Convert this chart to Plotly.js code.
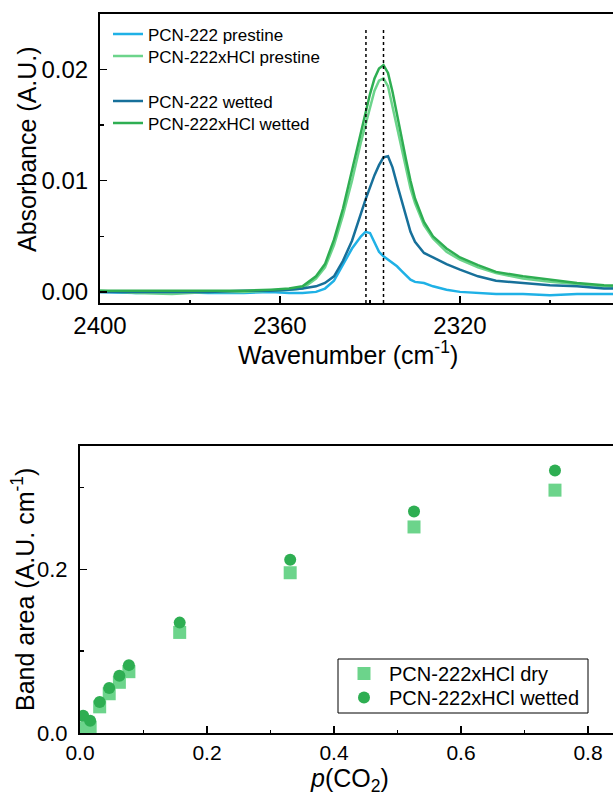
<!DOCTYPE html>
<html>
<head>
<meta charset="utf-8">
<script src="https://cdn.plot.ly/plotly-3.0.1.min.js"></script>
<style>
html, body { margin: 0; padding: 0; width: 613px; height: 796px; overflow: hidden; background: #fff; }
#chart { width: 680px; height: 796px; }
</style>
</head>
<body>
<div id="chart"></div>
<script>
// ---------- Top panel: IR spectra ----------
const wavenumber = [2400, 2392, 2384, 2376, 2368, 2362, 2358, 2355, 2352, 2350, 2348, 2346, 2344, 2342, 2341, 2340, 2339, 2338, 2337, 2336, 2335, 2334, 2333, 2332, 2331, 2330, 2328, 2326, 2323, 2320, 2316, 2312, 2306, 2300, 2294, 2288, 2282, 2275, 2270];

const absPCN222Prestine = [0.0000, -0.0001, 0.0000, -0.0001, -0.0001, 0.0000, -0.0001, -0.0001, 0.0000, 0.0003, 0.0010, 0.0024, 0.0039, 0.0050, 0.0054, 0.0053, 0.0045, 0.0036, 0.0032, 0.0029, 0.0026, 0.0023, 0.0019, 0.0015, 0.0011, 0.0009, 0.0008, 0.0005, 0.0002, 0.0000, -0.0001, -0.0002, -0.0002, -0.0003, -0.0002, -0.0002, -0.0002, -0.0002, -0.0002];

const absPCN222HClPrestine = [0.0001, -0.0001, -0.0002, 0.0000, 0.0000, 0.0001, 0.0002, 0.0003, 0.0012, 0.0022, 0.0042, 0.0069, 0.0100, 0.0135, 0.0151, 0.0167, 0.0181, 0.0190, 0.0192, 0.0185, 0.0167, 0.0148, 0.0129, 0.0110, 0.0093, 0.0080, 0.0060, 0.0048, 0.0036, 0.0029, 0.0022, 0.0017, 0.0012, 0.0009, 0.0007, 0.0005, 0.0004, 0.0003, 0.0003];

const absPCN222Wetted = [0.0000, 0.0000, 0.0000, 0.0000, 0.0001, 0.0001, 0.0002, 0.0003, 0.0005, 0.0008, 0.0014, 0.0028, 0.0046, 0.0072, 0.0083, 0.0094, 0.0105, 0.0114, 0.0121, 0.0122, 0.0112, 0.0097, 0.0082, 0.0067, 0.0054, 0.0045, 0.0035, 0.0031, 0.0025, 0.0020, 0.0014, 0.0010, 0.0008, 0.0006, 0.0005, 0.0003, 0.0003, 0.0002, 0.0002];

const absPCN222HClWetted = [0.0001, 0.0001, 0.0001, 0.0001, 0.0001, 0.0002, 0.0003, 0.0005, 0.0014, 0.0025, 0.0047, 0.0075, 0.0109, 0.0145, 0.0162, 0.0178, 0.0192, 0.0201, 0.0204, 0.0197, 0.0180, 0.0159, 0.0139, 0.0119, 0.0100, 0.0084, 0.0063, 0.0050, 0.0039, 0.0031, 0.0024, 0.0018, 0.0014, 0.0011, 0.0008, 0.0006, 0.0005, 0.0004, 0.0004];

const peakPositions = [2340.9, 2337.0];   // dotted reference lines
const peakLineTop = 0.0236;

// ---------- Bottom panel: band area vs p(CO2) ----------
const pCO2 = [0.005, 0.016, 0.031, 0.046, 0.062, 0.077, 0.157, 0.331, 0.526, 0.748];
const bandAreaDry = [0.006, 0.007, 0.032, 0.048, 0.062, 0.075, 0.123, 0.196, 0.252, 0.297];
const bandAreaWetted = [0.021, 0.015, 0.038, 0.055, 0.070, 0.083, 0.135, 0.212, 0.271, 0.321];

const topXTicks = [2400, 2360, 2320];
const topYTicks = [0, 0.01, 0.02];
const botXTicks = [0, 0.2, 0.4, 0.6, 0.8];
const botYTicks = [0, 0.2];

// ---------- geometry ----------
const W = 680, H = 796;
const FONT = '"Liberation Sans", Arial, sans-serif';
const px = v => v / W;
const py = v => 1 - v / H;

const cLightBlue = '#1fb1e6';
const cLightGreen = '#6cd48b';
const cDarkBlue = '#17709a';
const cGreen = '#2eae52';

const traces = [
  {x: wavenumber, y: absPCN222Prestine, name: 'PCN-222 prestine', type: 'scatter', mode: 'lines',
   line: {color: cLightBlue, width: 2.5}, xaxis: 'x', yaxis: 'y', legend: 'legend'},
  {x: wavenumber, y: absPCN222HClPrestine, name: 'PCN-222xHCl prestine', type: 'scatter', mode: 'lines',
   line: {color: cLightGreen, width: 2.5}, xaxis: 'x', yaxis: 'y', legend: 'legend2'},
  {x: wavenumber, y: absPCN222Wetted, name: 'PCN-222 wetted', type: 'scatter', mode: 'lines',
   line: {color: cDarkBlue, width: 2.5}, xaxis: 'x', yaxis: 'y', legend: 'legend3'},
  {x: wavenumber, y: absPCN222HClWetted, name: 'PCN-222xHCl wetted', type: 'scatter', mode: 'lines',
   line: {color: cGreen, width: 2.5}, xaxis: 'x', yaxis: 'y', legend: 'legend4'},
  {x: pCO2, y: bandAreaDry, name: 'PCN-222xHCl dry', type: 'scatter', mode: 'markers',
   marker: {symbol: 'square', size: 13, color: cLightGreen}, xaxis: 'x2', yaxis: 'y2', legend: 'legend5'},
  {x: pCO2, y: bandAreaWetted, name: 'PCN-222xHCl wetted', type: 'scatter', mode: 'markers',
   marker: {symbol: 'circle', size: 12, color: cGreen}, xaxis: 'x2', yaxis: 'y2', legend: 'legend6'}
];

const axisCommon = {
  showline: true, linewidth: 2, linecolor: '#000', mirror: true,
  ticks: 'inside', ticklen: 7, tickwidth: 1.5, tickcolor: '#000',
  showgrid: false, zeroline: false, fixedrange: true
};

const topXRange = [2400, 2400 - (W - 100) / 4.5];
const botXRange = [0, (W - 80) / 635];

function legendAt(left, top, size, extra) {
  return Object.assign({
    x: px(left), y: py(top), xanchor: 'left', yanchor: 'top',
    bgcolor: 'rgba(0,0,0,0)', borderwidth: 0, font: {size: size, family: FONT},
    tracegroupgap: 0, itemclick: false
  }, extra || {});
}

const layout = {
  width: W, height: H,
  margin: {l: 0, r: 0, t: 0, b: 0},
  paper_bgcolor: '#fff', plot_bgcolor: '#fff',
  font: {family: FONT, color: '#000'},
  showlegend: true,
  xaxis: Object.assign({}, axisCommon, {
    domain: [px(100), 1], anchor: 'y', range: topXRange,
    tickmode: 'array', tickvals: topXTicks, ticktext: topXTicks.map(String),
    tickfont: {size: 24, family: FONT}, ticklabelstandoff: 0,
    minor: {ticks: 'inside', dtick: 20, tick0: 2400, ticklen: 3.5, tickwidth: 1.5, tickcolor: '#000', showgrid: false}
  }),
  yaxis: Object.assign({}, axisCommon, {
    domain: [py(303), py(14)], anchor: 'x', range: [-0.001, 0.025],
    tickmode: 'array', tickvals: topYTicks, ticktext: topYTicks.map(v => v.toFixed(2)),
    tickfont: {size: 24, family: FONT}, ticklabelstandoff: 5,
    minor: {ticks: 'inside', dtick: 0.005, tick0: 0, ticklen: 3.5, tickwidth: 1.5, tickcolor: '#000', showgrid: false}
  }),
  xaxis2: Object.assign({}, axisCommon, {
    domain: [px(80), 1], anchor: 'y2', range: botXRange,
    tickmode: 'array', tickvals: botXTicks, ticktext: botXTicks.map(v => v.toFixed(1)),
    tickfont: {size: 21, family: FONT}, ticklabelstandoff: 0,
    minor: {ticks: 'inside', dtick: 0.1, tick0: 0, ticklen: 3.5, tickwidth: 1.5, tickcolor: '#000', showgrid: false}
  }),
  yaxis2: Object.assign({}, axisCommon, {
    domain: [py(733), py(446)], anchor: 'x2', range: [0, 0.351],
    tickmode: 'array', tickvals: botYTicks, ticktext: botYTicks.map(v => v.toFixed(1)),
    tickfont: {size: 22, family: FONT}, ticklabelstandoff: 6,
    minor: {ticks: 'inside', dtick: 0.1, tick0: 0, ticklen: 3.5, tickwidth: 1.5, tickcolor: '#000', showgrid: false}
  }),
  legend: legendAt(108, 16.5, 17),
  legend2: legendAt(108, 38.5, 17),
  legend3: legendAt(108, 83.5, 17),
  legend4: legendAt(108, 105.5, 17),
  legend5: legendAt(339, 654, 20, {itemwidth: 40}),
  legend6: legendAt(339, 678, 20, {itemwidth: 40}),
  shapes: peakPositions.map(p => ({
    type: 'line', xref: 'x', yref: 'y', x0: p, x1: p, y0: -0.001, y1: peakLineTop,
    line: {color: '#000', width: 1.5, dash: 'dot'}, layer: 'above'
  })).concat([{
    type: 'rect', xref: 'paper', yref: 'paper', x0: px(338), x1: px(588), y0: py(713), y1: py(659),
    line: {color: '#000', width: 1}, fillcolor: '#fff', layer: 'above'
  }]),
  annotations: [
    {text: 'Wavenumber (cm<sup>-1</sup>)', xref: 'paper', yref: 'paper', x: px(348), y: py(353),
     xanchor: 'center', yanchor: 'middle', showarrow: false, font: {size: 25, family: FONT}},
    {text: 'Absorbance (A.U.)', xref: 'paper', yref: 'paper', x: px(27), y: py(149),
     xanchor: 'center', yanchor: 'middle', textangle: -90, showarrow: false, font: {size: 25, family: FONT}},
    {text: '<i>p</i>(CO<sub>2</sub>)', xref: 'paper', yref: 'paper', x: px(350), y: py(780),
     xanchor: 'center', yanchor: 'middle', showarrow: false, font: {size: 25, family: FONT}},
    {text: 'Band area (A.U. cm<sup>-1</sup>)', xref: 'paper', yref: 'paper', x: px(23), y: py(590),
     xanchor: 'center', yanchor: 'middle', textangle: -90, showarrow: false, font: {size: 25, family: FONT}}
  ]
};

Plotly.newPlot('chart', traces, layout, {staticPlot: true, displayModeBar: false});
</script>
</body>
</html>
